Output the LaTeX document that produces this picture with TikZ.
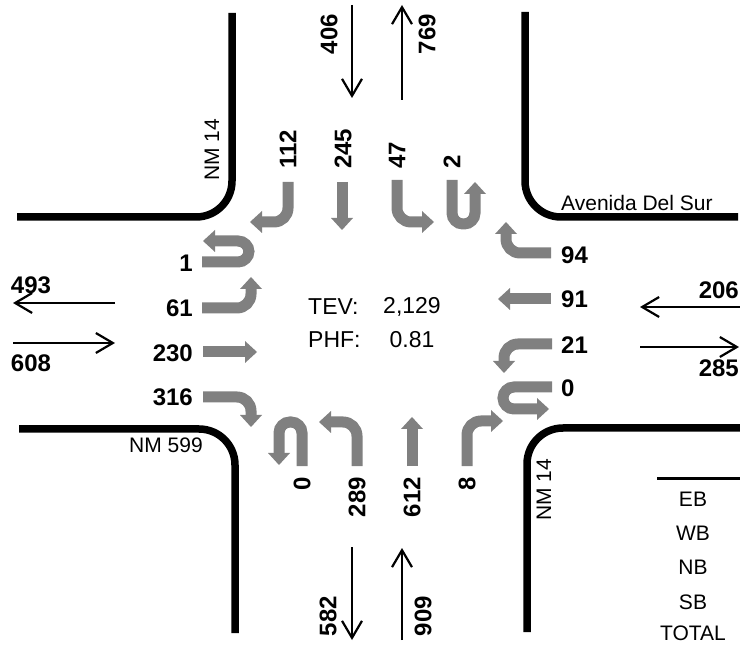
\documentclass[tikz,border=0pt]{standalone}
\usepackage{fontspec}
\setmainfont{Liberation Sans}
\usetikzlibrary{arrows.meta}
\definecolor{mvgray}{RGB}{128,128,128}
\begin{document}
\begin{tikzpicture}[x=1pt,y=-1pt,
  road/.style={line width=7.5pt, rounded corners=36pt},
  mv/.style={draw=mvgray, line width=11pt, -{Triangle[length=12pt,width=22pt,line width=0pt]}},
  turn/.style={mv, rounded corners=14pt},
  uturn/.style={mv, rounded corners=11pt},
  flow/.style={line width=2.2pt, -{Straight Barb[length=17pt,width=20pt]}},
  num/.style={font=\fontsize{24}{28}\selectfont\bfseries, inner sep=0pt},
  lbl/.style={font=\fontsize{21}{25}\selectfont, inner sep=0pt},
  cen/.style={font=\fontsize{23}{27}\selectfont, inner sep=0pt}]
\useasboundingbox (0,0) rectangle (740,647);

% roads
\draw[road] (232,13) -- (232,217) -- (17,217);
\draw[road] (525,12) -- (525,217) -- (738,217);
\draw[road] (19,429) -- (235,429) -- (235,633);
\draw[road] (742,428) -- (527,428) -- (527,632);

% road labels
\node[lbl, rotate=90] (nmnw) at (212,150) {NM 14};
\node[lbl, anchor=west] (ave) at (561,203) {Avenida Del Sur};
\node[lbl, anchor=west] (nm599) at (129,445) {NM 599};
\node[lbl, rotate=90] (nmse) at (544,490) {NM 14};

% approach / departure volumes
\draw[flow] (352,5) -- (352,98);
\draw[flow] (402,100) -- (402,5);
\draw[flow] (115,303) -- (13,303);
\draw[flow] (13,343) -- (115,343);
\draw[flow] (740,307) -- (640,307);
\draw[flow] (640,347) -- (739,347);
\draw[flow] (352,547) -- (352,640);
\draw[flow] (402,640) -- (402,548);

\node[num, rotate=90] (v406) at (329,34) {406};
\node[num, rotate=90] (v769) at (427,34) {769};
\node[num] (v493) at (31,285) {493};
\node[num] (v608) at (31,363) {608};
\node[num, anchor=east] (v206) at (739,290) {206};
\node[num, anchor=east] (v285) at (739,368) {285};
\node[num, rotate=90] (v582) at (328,616) {582};
\node[num, rotate=90] (v909) at (423,616) {909};

% southbound movements
\draw[turn] (288,182) -- (288,222) -- (250,222);
\draw[mv] (342,182) -- (342,230);
\draw[turn] (397,180) -- (397,222) -- (434,222);
\draw[uturn] (452,180) -- (452,224) -- (475,224) -- (475,182);
\node[num, rotate=90, anchor=west] (sbr) at (288,169) {112};
\node[num, rotate=90, anchor=west] (sbt) at (343,169) {245};
\node[num, rotate=90, anchor=west] (sbl) at (397,169) {47};
\node[num, rotate=90, anchor=west] (sbu) at (452,169) {2};

% westbound movements
\draw[turn] (551,253) -- (506,253) -- (506,222);
\draw[mv] (551,299) -- (498,299);
\draw[turn] (552,344) -- (504,344) -- (504,373);
\draw[uturn] (552,387) -- (503,387) -- (503,409) -- (549,409);
\node[num, anchor=west] (wbr) at (561,255) {94};
\node[num, anchor=west] (wbt) at (561,299) {91};
\node[num, anchor=west] (wbl) at (561,345) {21};
\node[num, anchor=west] (wbu) at (561,388) {0};

% eastbound movements
\draw[uturn] (202,262) -- (249,262) -- (249,241) -- (203,241);
\draw[turn] (202,308) -- (251,308) -- (251,277);
\draw[mv] (203,352) -- (257,352);
\draw[turn] (203,397) -- (251,397) -- (251,427);
\node[num, anchor=east] (ebu) at (193,263) {1};
\node[num, anchor=east] (ebl) at (193,308) {61};
\node[num, anchor=east] (ebt) at (193,353) {230};
\node[num, anchor=east] (ebr) at (193,397) {316};

% northbound movements
\draw[uturn] (302,466) -- (302,422) -- (279,422) -- (279,465);
\draw[turn] (357,466) -- (357,422) -- (319,422);
\draw[mv] (412,466) -- (412,417);
\draw[turn] (467,466) -- (467,421) -- (503,421);
\node[num, rotate=90, anchor=east] (nbu) at (302,477) {0};
\node[num, rotate=90, anchor=east] (nbl) at (357,477) {289};
\node[num, rotate=90, anchor=east] (nbt) at (412,477) {612};
\node[num, rotate=90, anchor=east] (nbr) at (467,477) {8};

% centre
\node[cen, anchor=west] (tev) at (308,307) {TEV:};
\node[cen] (tevv) at (412,307) {2,129};
\node[cen, anchor=west] (phf) at (308,340) {PHF:};
\node[cen] (phfv) at (412,340) {0.81};

% legend
\draw[line width=3pt] (657,478) -- (740,478);
\node[lbl] (leb) at (693,499) {EB};
\node[lbl] (lwb) at (693,533) {WB};
\node[lbl] (lnb) at (693,567) {NB};
\node[lbl] (lsb) at (693,602) {SB};
\node[lbl] (ltot) at (693,633) {TOTAL};
\end{tikzpicture}
\end{document}
